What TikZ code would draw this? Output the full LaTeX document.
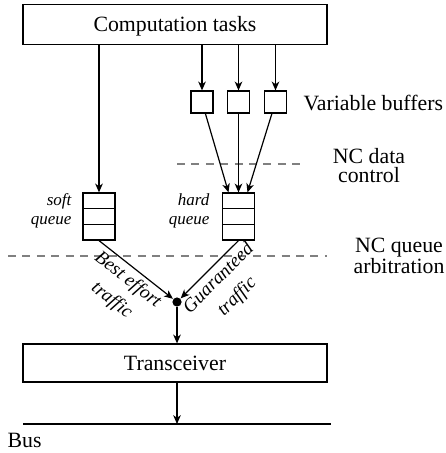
\documentclass[tikz,border=0pt]{standalone}
\usepackage{fontspec}
\setmainfont{Liberation Serif}
\usetikzlibrary{arrows.meta,calc}

\begin{document}
\begin{tikzpicture}[x=0.5pt,y=-0.5pt,
  line width=0.6pt,
  >={Stealth[length=4.4pt,width=3.8pt,inset=1.3pt]},
  every node/.style={font=\fontsize{10.9}{12}\selectfont},
  widebox/.style={draw, minimum width=152pt, minimum height=20pt, inner sep=0pt},
  bufbox/.style={draw, minimum width=11pt, minimum height=11pt, inner sep=0pt},
  queuebox/.style={draw, minimum width=16pt, minimum height=23.5pt, inner sep=0pt},
  queuelabel/.style={font=\itshape\fontsize{8.5}{9.5}\selectfont, align=right, inner sep=0pt},
  trafficlabel/.style={font=\itshape\fontsize{9.5}{13}\selectfont, align=center, inner sep=2pt},
  sidelabel/.style={align=center, inner sep=0pt},
  layerline/.style={gray, dash pattern=on 4pt off 3.2pt},
  junction/.style={circle, fill, inner sep=0pt, minimum size=4.6pt},
]
\useasboundingbox (0,0) rectangle (445,453);

% boxes
\node[widebox, text height=7.4pt, text depth=0.8pt] (tasks) at (175,24.5) {Computation tasks};
\node[bufbox] (b1) at (202,102) {};
\node[bufbox] (b2) at (238.5,102) {};
\node[bufbox] (b3) at (275.5,102) {};
\node[anchor=base west, inner sep=0pt] (vb) at (303,111) {Variable buffers};

% queues with three slots each
\node[queuebox] (sq) at (99,216.5) {};
\node[queuebox] (hq) at (238.5,216.5) {};
\foreach \q in {sq,hq}{
  \draw ($(\q.north west)!1/3!(\q.south west)$) -- ($(\q.north east)!1/3!(\q.south east)$);
  \draw ($(\q.north west)!2/3!(\q.south west)$) -- ($(\q.north east)!2/3!(\q.south east)$);
}
\node[queuelabel, anchor=east] (sl) at (72,210.6) {soft\\queue};
\node[queuelabel, anchor=east] (hl) at (210,210.6) {hard\\queue};

\node[junction] (j) at (177,302) {};
\node[widebox, minimum height=19pt] (tr) at (175,363) {Transceiver};

% bus
\coordinate (busL) at (23,424);
\coordinate (busR) at (331,424);
\draw (busL) -- (busR);
\node[anchor=base west, inner sep=0pt] (bus) at (7,447) {Bus};

% layer separators
\coordinate (d1a) at (177,164);
\coordinate (d1b) at (300,164);
\coordinate (d2a) at (8,256);
\coordinate (d2b) at (327,256);
\draw[layerline] (d1a) -- (d1b);
\draw[layerline] (d2a) -- (d2b);
\node[sidelabel, font=\fontsize{10.9}{9.75}\selectfont] (ncd) at (369,165.3) {NC data\\control};
\node[sidelabel, font=\fontsize{10.9}{10.5}\selectfont] (ncq) at (399,256.2) {NC queue\\arbitration};

% data flow
\draw[->] (tasks.south -| sq.north) -- (sq.north);
\draw[->] (tasks.south -| b1) -- (b1);
\draw[->] (tasks.south -| b2) -- (b2);
\draw[->] (tasks.south -| b3) -- (b3);
\draw[->] (b1) -- ($(hq.north)+(-10,0)$);
\draw[->] (b2) -- (hq.north);
\draw[->] (b3) -- ($(hq.north)+(9,0)$);
\draw[->] (sq.south) -- node[trafficlabel, sloped, below, pos=0.5] {Best effort\\traffic} (j);
\draw[->] (hq.south) -- node[trafficlabel, sloped, below, pos=0.5] {Guaranteed\\traffic} (j);
\draw[->] (j) -- (j |- tr.north);
\draw[->] (j |- tr.south) -- (j |- busL);
\end{tikzpicture}
\end{document}
